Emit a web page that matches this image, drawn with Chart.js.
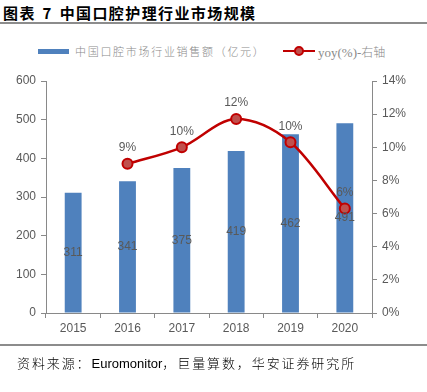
<!DOCTYPE html>
<html><head><meta charset="utf-8">
<script src="https://cdn.jsdelivr.net/npm/chart.js@4"></script>
<style>
body{margin:0;background:#fff;}
#wrap{position:relative;width:427px;height:392px;overflow:hidden;font-family:"Liberation Sans",Arial,sans-serif;}
#title{position:absolute;left:3px;top:2px;font:bold 15px "Noto Sans CJK SC";color:#000;letter-spacing:1.4px;word-spacing:2px;white-space:nowrap;}
.rule{position:absolute;left:0;width:427px;height:2px;background:#8c8c8c;}
#src{position:absolute;left:17px;top:353px;font-size:13px;color:#000;white-space:nowrap;}
#src .c{font-family:"Noto Sans CJK SC";letter-spacing:1.9px;font-weight:300;}
#leg{position:absolute;top:42px;left:0;width:427px;height:18px;font-size:11px;color:#8a8a8a;}
#leg .sw{position:absolute;left:38px;top:7px;width:31px;height:5px;background:#4F81BD;}
#leg .t1{position:absolute;left:75px;top:1px;font-family:"Noto Sans CJK SC";letter-spacing:1.7px;font-weight:300;white-space:nowrap;}
#leg .ln{position:absolute;left:283px;top:8px;width:32px;height:2px;background:#C00000;}
#leg .dot{position:absolute;left:294px;top:4px;width:6px;height:6px;border:2px solid #C00000;border-radius:50%;background:#C0504D;}
#leg .t2{position:absolute;left:318px;top:1px;font-family:"Liberation Serif";font-size:13px;white-space:nowrap;}
canvas{position:absolute;left:0;top:0;}
</style></head>
<body><div id="wrap">
<div id="title">图表 7 中国口腔护理行业市场规模</div>
<div class="rule" style="top:22px"></div>
<div id="leg"><div class="sw"></div><div class="t1">中国口腔市场行业销售额（亿元）</div><div class="ln"></div><div class="dot"></div><div class="t2">yoy(%)-<span style="font-family:'Noto Sans CJK SC';font-size:12px;font-weight:300">右轴</span></div></div>
<canvas id="c" width="427" height="392"></canvas>
<div class="rule" style="top:344px"></div>
<div id="src"><span class="c">资料来源：</span>Euromonitor<span class="c">，巨量算数，华安证券研究所</span></div>
</div>
<script>
const categories = ["2015","2016","2017","2018","2019","2020"];
const salesValues = [311, 341, 375, 419, 462, 491];
const yoyValues = [null, 9.0, 10.0, 11.7, 10.3, 6.3];
const leftTicks = [0,100,200,300,400,500,600];
const rightTicks = [0,2,4,6,8,10,12,14];

const labelPlugin = {
  id:'labels',
  afterDatasetsDraw(chart){
    const ctx = chart.ctx;
    ctx.save();
    ctx.font = '12px "Liberation Sans", Arial';
    ctx.fillStyle = '#595959';
    ctx.textAlign = 'center';
    ctx.textBaseline = 'middle';
    const bm = chart.getDatasetMeta(0);
    bm.data.forEach((el,i)=>{
      const y = (el.y + el.base)/2;
      ctx.fillText(String(salesValues[i]), el.x, y);
    });
    const lm = chart.getDatasetMeta(1);
    lm.data.forEach((el,i)=>{
      if (yoyValues[i]==null) return;
      ctx.fillText(Math.round(yoyValues[i])+'%', el.x, el.y-16);
    });
    ctx.restore();
  }
};

new Chart(document.getElementById('c'), {
  data:{
    labels:categories,
    datasets:[
      {type:'bar', data:salesValues, backgroundColor:'#4F81BD', yAxisID:'y', barPercentage:0.31, categoryPercentage:1, order:2},
      {type:'line', data:yoyValues, yAxisID:'y1', borderColor:'#C00000', borderWidth:2.5, tension:0.4, cubicInterpolationMode:'monotone',
       pointRadius:5, pointBackgroundColor:'#C0504D', pointBorderColor:'#C00000', pointBorderWidth:2, order:1, spanGaps:false}
    ]
  },
  options:{
    responsive:false, animation:false, devicePixelRatio:1,
    layout:{padding:{top:81,bottom:51,left:0,right:0}},
    plugins:{legend:{display:false},tooltip:{enabled:false}},
    scales:{
      x:{offset:true, grid:{display:true, drawOnChartArea:false, offset:true, color:'#898989', tickLength:5},
         border:{color:'#898989'},
         ticks:{color:'#595959', font:{size:12, family:'"Liberation Sans", Arial'}, padding:3},
         afterFit(s){s.height=28;}},
      y:{position:'left', min:0, max:600, afterBuildTicks(s){s.ticks=leftTicks.map(v=>({value:v}));},
         grid:{drawOnChartArea:false, color:'#898989', tickLength:5}, border:{color:'#898989'},
         ticks:{color:'#595959', font:{size:12, family:'"Liberation Sans", Arial'}, padding:5},
         afterFit(s){s.width=46;}},
      y1:{position:'right', min:0, max:14, afterBuildTicks(s){s.ticks=rightTicks.map(v=>({value:v}));},
         grid:{drawOnChartArea:false, color:'#898989', tickLength:5}, border:{color:'#898989'},
         ticks:{color:'#595959', font:{size:12, family:'"Liberation Sans", Arial'}, padding:5, callback:v=>v+'%'},
         afterFit(s){s.width=55;}}
    }
  },
  plugins:[labelPlugin]
});
</script>
</body></html>
